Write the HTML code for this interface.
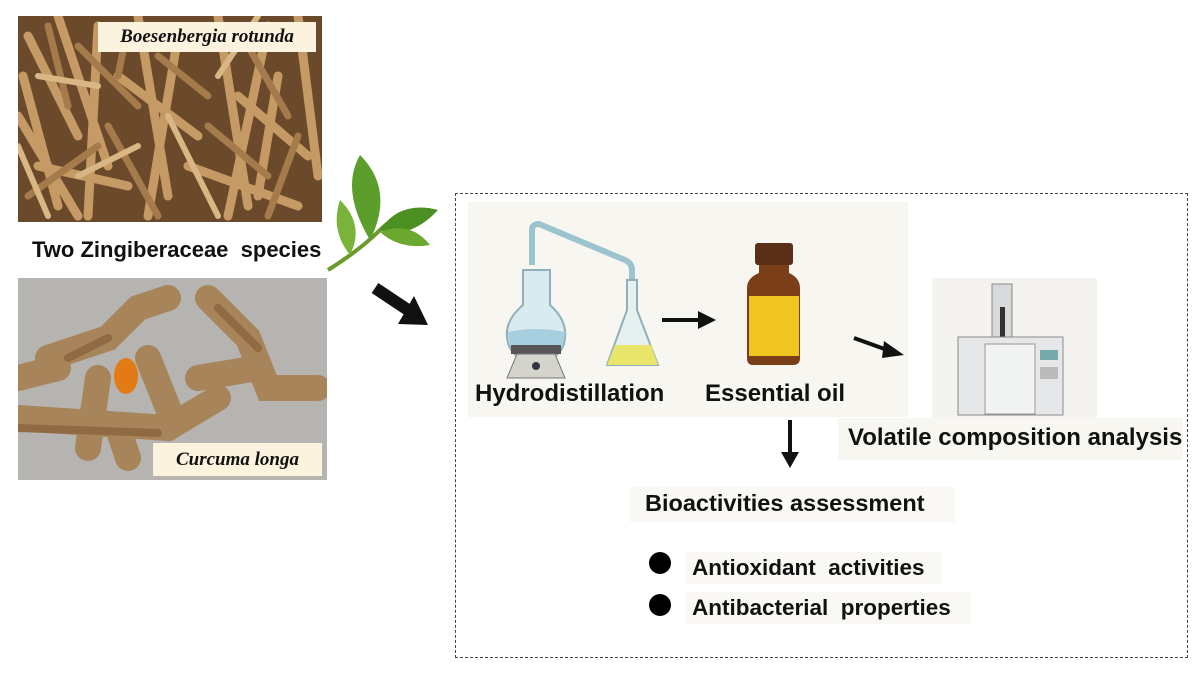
<!DOCTYPE html>
<html><head><style>
body{margin:0;width:1200px;height:675px;background:#fff;position:relative;overflow:hidden;font-family:"Liberation Sans",sans-serif}
.a{position:absolute}
.t{font-weight:bold;color:#111;font-size:24px;white-space:nowrap}
.lab{position:absolute;background:#fbf3de;font-family:"Liberation Serif",serif;font-style:italic;font-weight:bold;font-size:19px;color:#111;text-align:center}
</style></head><body>
<svg class="a" style="left:18px;top:16px" width="304" height="206">
<rect width="304" height="206" fill="#6b4a2c"/>
<g stroke-linecap="round">
<path d="M10 20 L60 120 M40 0 L90 150 M80 10 L70 200 M120 0 L150 180 M160 20 L130 200 M200 0 L230 190 M250 10 L210 200 M280 0 L300 160 M0 100 L60 200 M100 60 L180 120 M220 80 L290 140 M20 150 L110 170 M170 150 L280 190 M5 60 L40 190 M260 60 L240 180" stroke="#c59a64" stroke-width="9"/>
<path d="M30 10 L50 90 M60 30 L120 90 M140 40 L190 80 M230 30 L270 100 M90 110 L140 200 M190 110 L250 160 M10 180 L80 130 M280 120 L250 200 M110 10 L100 60" stroke="#a57b4b" stroke-width="7"/>
<path d="M20 60 L80 70 M150 100 L200 200 M240 0 L200 60 M0 130 L30 200 M60 160 L120 130" stroke="#d9b784" stroke-width="6"/>
</g>
</svg>
<div class="lab" style="left:98px;top:22px;width:218px;height:30px;line-height:30px">Boesenbergia rotunda</div>
<div class="a t" style="left:32px;top:237px;font-size:22px">Two Zingiberaceae&nbsp; species</div>
<svg class="a" style="left:18px;top:278px" width="309" height="202">
<rect width="309" height="202" fill="#b5b4b0"/>
<g stroke-linecap="round" fill="none">
<path d="M0 140 L150 150 L200 120 M30 80 L90 60 L120 30 L150 20 M190 20 L230 60 L250 110 L300 110 M180 100 L240 90 M80 100 L70 170 M130 80 L150 130 M0 100 L40 90 M100 150 L110 180" stroke="#a8845a" stroke-width="26"/>
<path d="M0 150 L140 155 M200 30 L240 70 M50 80 L90 60" stroke="#8f6a43" stroke-width="8"/>
</g>
<ellipse cx="108" cy="98" rx="12" ry="18" fill="#e27b16"/>
</svg>
<div class="lab" style="left:153px;top:443px;width:169px;height:33px;line-height:33px">Curcuma longa</div>
<svg class="a" style="left:320px;top:150px" width="125" height="140">
<path d="M8 120 Q40 100 60 80 Q80 60 110 60" stroke="#6a9a2a" stroke-width="4" fill="none"/>
<path d="M50 90 Q20 40 40 5 Q75 40 50 90Z" fill="#5b9e2c"/>
<path d="M60 80 Q80 50 118 60 Q90 90 60 80Z" fill="#4c8f22"/>
<path d="M30 105 Q10 80 20 50 Q45 75 30 105Z" fill="#79b33a"/>
<path d="M60 82 Q80 100 110 95 Q90 70 60 82Z" fill="#6aa82f"/>
</svg>
<svg class="a" style="left:370px;top:280px" width="65" height="55">
<path d="M5 8 L38 30" stroke="#111" stroke-width="12"/>
<polygon points="28,44 58,45 44,16" fill="#111"/>
</svg>
<div class="a" style="left:455px;top:193px;width:731px;height:463px;border:1px dashed #444"></div>
<div class="a" style="left:468px;top:202px;width:440px;height:215px;background:#f8f6f0"></div>
<div class="a" style="left:932px;top:278px;width:165px;height:140px;background:#f4f3ef"></div>
<div class="a" style="left:838px;top:418px;width:345px;height:42px;background:#f8f6f0"></div>
<svg class="a" style="left:495px;top:220px" width="180" height="160">
<path d="M37 45 L37 10 Q37 4 44 4 L130 40 Q137 43 137 50 L137 70" stroke="#9cc4cf" stroke-width="6" fill="none"/>
<path d="M28 50 L28 85 Q10 100 12 118 Q15 140 40 142 Q68 140 70 118 Q72 100 55 85 L55 50Z" fill="#d8ebef" stroke="#8fb0ba" stroke-width="2"/>
<path d="M13 112 Q40 106 70 112 Q68 140 40 142 Q14 140 13 112Z" fill="#a7cfe0"/>
<rect x="16" y="125" width="50" height="9" fill="#555"/>
<path d="M22 134 L60 134 L70 158 L12 158Z" fill="#d4d3cc" stroke="#777"/>
<circle cx="41" cy="146" r="4" fill="#334"/>
<path d="M132 60 L142 60 L142 90 L163 145 L112 145 L132 90Z" fill="#e5f0ef" stroke="#8fb0ba" stroke-width="2"/>
<path d="M120 125 L156 125 L163 145 L112 145Z" fill="#e8e56a"/>
</svg>
<svg class="a" style="left:660px;top:305px" width="60" height="30"><path d="M2 15 L40 15" stroke="#111" stroke-width="4"/><polygon points="38,6 56,15 38,24" fill="#111"/></svg>
<svg class="a" style="left:745px;top:243px" width="60" height="125">
<rect x="10" y="0" width="38" height="22" rx="3" fill="#5a2f17"/>
<path d="M14 22 L44 22 L44 30 Q55 35 55 45 L55 115 Q55 122 48 122 L8 122 Q2 122 2 115 L2 45 Q2 35 14 30Z" fill="#7a3f18"/>
<rect x="4" y="53" width="50" height="60" fill="#f1c521"/>
</svg>
<svg class="a" style="left:852px;top:335px" width="55" height="25"><path d="M2 3 L38 16" stroke="#111" stroke-width="4"/><polygon points="32,6 52,20 30,23" fill="#111"/></svg>
<svg class="a" style="left:950px;top:282px" width="120" height="135">
<rect x="42" y="2" width="20" height="60" fill="#d9dadb" stroke="#888"/>
<rect x="50" y="25" width="5" height="40" fill="#333"/>
<rect x="8" y="55" width="105" height="78" fill="#e6e7e8" stroke="#888"/>
<rect x="35" y="62" width="50" height="70" fill="#f2f3f3" stroke="#999"/>
<rect x="90" y="68" width="18" height="10" fill="#7aa"/>
<rect x="90" y="85" width="18" height="12" fill="#bbb"/>
</svg>
<div class="a t" style="left:475px;top:380px">Hydrodistillation</div>
<div class="a t" style="left:705px;top:380px">Essential oil</div>
<div class="a t" style="left:848px;top:424px">Volatile composition analysis</div>
<svg class="a" style="left:777px;top:418px" width="30" height="52"><path d="M13 2 L13 38" stroke="#111" stroke-width="4"/><polygon points="4,34 22,34 13,50" fill="#111"/></svg>
<div class="a" style="left:630px;top:487px;width:325px;height:35px;background:#f9f8f4"></div>
<div class="a t" style="left:645px;top:490px;font-size:23.5px">Bioactivities assessment</div>
<div class="a" style="left:686px;top:552px;width:255px;height:32px;background:#f9f8f4"></div>
<div class="a" style="left:686px;top:592px;width:285px;height:32px;background:#f9f8f4"></div>
<div class="a" style="left:649px;top:552px;width:22px;height:22px;border-radius:50%;background:#000"></div>
<div class="a" style="left:649px;top:594px;width:22px;height:22px;border-radius:50%;background:#000"></div>
<div class="a t" style="left:692px;top:555px;font-size:22.5px">Antioxidant&nbsp; activities</div>
<div class="a t" style="left:692px;top:595px;font-size:22.5px">Antibacterial&nbsp; properties</div>
</body></html>
